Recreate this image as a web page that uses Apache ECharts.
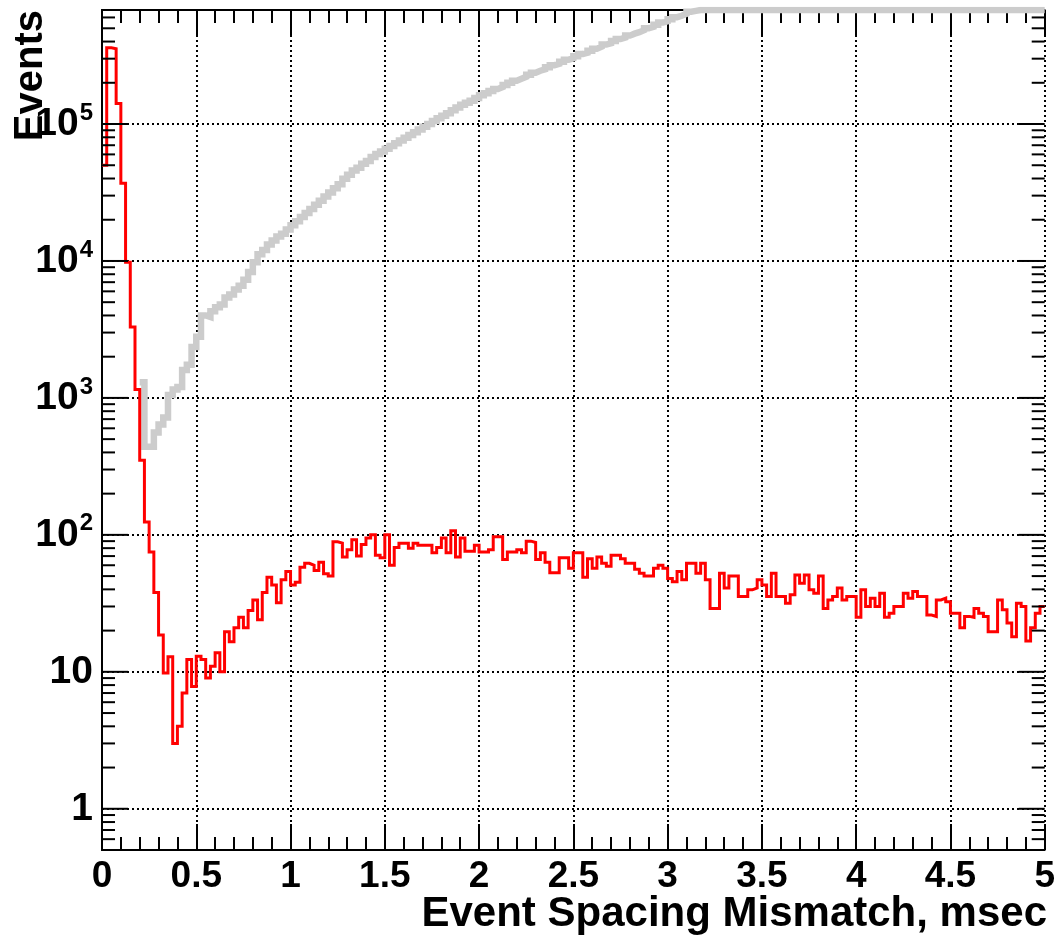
<!DOCTYPE html>
<html>
<head>
<meta charset="utf-8">
<script src="https://cdn.jsdelivr.net/npm/echarts@6/dist/echarts.min.js"></script>
<style>
html,body{margin:0;padding:0;background:#fff;}
#chart{width:1058px;height:939px;}
</style>
</head>
<body>
<div id="chart"></div>
<script>
// ---- data ----
const BIN_WIDTH = 0.025;   // msec
const X_MIN = 0, X_MAX = 5;
const Y_MIN = 0.5, Y_MAX = 680000;
const X_TITLE = 'Event Spacing Mismatch, msec';
const Y_TITLE = 'Events';

// red histogram, bins 0..199 (x = i * 0.025)
const RED_COUNTS = [
  50000, 360000, 355000, 141000, 37000, 9800, 3300, 1150, 350, 124,
  75, 38, 18.6, 9.8, 12.9, 3.0, 4.0, 7.0, 12.3, 7.8,
  13, 12.3, 9, 11, 13.8, 10, 19.6, 16.6, 21, 25,
  21, 28, 33.5, 24, 38, 49, 43, 32, 47, 54,
  43, 45, 58, 62, 60, 55, 63, 52, 50, 89,
  87, 69, 78, 92, 70, 85, 95, 100, 71, 68,
  100, 60, 81, 87, 87, 80, 87, 84, 84, 84,
  74, 81, 95, 74, 107, 69, 95, 76, 76, 84,
  75, 75, 78, 97, 97, 66, 75, 75, 78, 74,
  90, 88, 66, 74, 63, 53, 53, 68, 68, 57,
  74, 74, 49, 67, 57, 69, 62, 59, 71, 71,
  67, 62, 62, 56, 52.5, 50, 50, 57, 60, 57,
  48, 45.5, 54, 47, 62, 62, 52.5, 62, 47, 29,
  29, 52.5, 41, 50, 50, 35.5, 35.5, 39.7, 41, 47,
  43, 35.5, 52.5, 35.5, 35.5, 31.7, 36.5, 51, 44.4, 51,
  39.7, 37.5, 50, 29, 33.5, 35.5, 41, 33.5, 35.5, 35.5,
  25, 39.7, 30, 34.5, 30, 37.5, 25, 26.8, 30, 30,
  37.5, 34.5, 38.6, 35.5, 35.5, 26, 25.4, 33.5, 34.5, 32.5,
  26.8, 26.8, 21, 25.4, 25, 29, 26.8, 25.4, 19.6, 19.6,
  33.5, 28.4, 22.7, 18, 31.7, 30, 16.8, 21, 26.8, 30
];

// grey histogram, starts at bin 8 (x = 0.2); clipped at the frame top beyond x ~ 3.15
const GRAY_FIRST_BIN = 8;
const GRAY_COUNTS = [
  1300, 440, 440, 560, 640, 720, 1050, 1150, 1200, 1600,
  1750, 2350, 2800, 4000, 3900, 4300, 4600, 4800, 5400, 5700,
  6200, 6600, 7300, 8300, 9800, 11200, 12000, 13200, 14100, 15100,
  15800, 17000, 18200, 19500, 20900, 22400, 24000, 25700, 27500, 29500,
  31600, 33900, 36300, 39800, 42700, 45700, 47900, 51300, 53700, 57500,
  60300, 63100, 66100, 69200, 72400, 75900, 79400, 83200, 87100, 91200,
  95500, 100000, 105000, 110000, 115000, 120000, 126000, 132000, 138000, 143000,
  148000, 155000, 162000, 168000, 174000, 180000, 186000, 193000, 200000, 207000,
  214000, 221000, 229000, 237000, 245000, 251000, 260000, 269000, 275000, 285000,
  295000, 302000, 313000, 324000, 331000, 343000, 355000, 367000, 380000, 389000,
  403000, 417000, 427000, 442000, 457000, 468000, 484000, 501000, 513000, 531000,
  550000, 562000, 582000, 603000, 617000, 638000, 661000, 670000,
  680000, 680000, 680000, 680000, 680000, 680000, 680000, 680000, 680000, 680000,
  680000, 680000, 680000, 680000, 680000, 680000, 680000, 680000, 680000, 680000,
  680000, 680000, 680000, 680000, 680000, 680000, 680000, 680000, 680000, 680000,
  680000, 680000, 680000, 680000, 680000, 680000, 680000, 680000, 680000, 680000,
  680000, 680000, 680000, 680000, 680000, 680000, 680000, 680000, 680000, 680000,
  680000, 680000, 680000, 680000, 680000, 680000, 680000, 680000, 680000, 680000,
  680000, 680000, 680000, 680000, 680000, 680000, 680000, 680000, 680000, 680000,
  680000, 680000, 680000, 680000
];

// y axis ticks (log): major decades and minor 2..9 subdivisions
const Y_MAJOR_TICKS = [1, 10, 100, 1000, 10000, 100000];
const Y_MINOR_TICKS = [
  0.6, 0.7, 0.8, 0.9,
  2, 3, 4, 5, 6, 7, 8, 9,
  20, 30, 40, 50, 60, 70, 80, 90,
  200, 300, 400, 500, 600, 700, 800, 900,
  2000, 3000, 4000, 5000, 6000, 7000, 8000, 9000,
  20000, 30000, 40000, 50000, 60000, 70000, 80000, 90000,
  200000, 300000, 400000, 500000, 600000
];

// ---- build ----
function histPoints(counts, firstBin) {
  const pts = counts.map((v, i) => [(firstBin + i) * BIN_WIDTH, v]);
  pts.push([(firstBin + counts.length) * BIN_WIDTH, counts[counts.length - 1]]);
  return pts;
}

const FONT = 'Liberation Sans, Arial, Helvetica, sans-serif';
const dotted = {color: '#000', width: 2, type: [2, 3]};
const tickStyle = {color: '#000', width: 2};

function yLabel(v) {
  const e = Math.round(Math.log10(v));
  const p = Math.pow(10, e);
  if (Math.abs(v - p) / p > 1e-6) return '';
  if (e === 0) return '{b|1}';
  if (e === 1) return '{b|10}';
  return '{b|10}{s|' + e + '}';
}

function tickSeries(name, ticks, len) {
  return {
    name: name, type: 'custom', xAxisIndex: 0, yAxisIndex: 0, silent: true, clip: false, z: 4,
    data: ticks.map(v => [X_MIN, v]),
    renderItem: function (params, api) {
      const v = api.value(1);
      const pl = api.coord([X_MIN, v]);
      const pr = api.coord([X_MAX, v]);
      return {
        type: 'group',
        children: [
          {type: 'line', shape: {x1: pl[0], y1: pl[1], x2: pl[0] + len, y2: pl[1]}, style: {stroke: '#000', lineWidth: 2}},
          {type: 'line', shape: {x1: pr[0] - len, y1: pr[1], x2: pr[0], y2: pr[1]}, style: {stroke: '#000', lineWidth: 2}}
        ]
      };
    }
  };
}

const chart = echarts.init(document.getElementById('chart'), null, {renderer: 'canvas'});
chart.setOption({
  animation: false,
  backgroundColor: '#fff',
  grid: {left: 102, right: 11, top: 10, bottom: 89, containLabel: false},
  xAxis: [{
    type: 'value', position: 'bottom', min: X_MIN, max: X_MAX, interval: 0.5,
    axisLine: {show: true, onZero: false, lineStyle: {color: '#000', width: 2}},
    axisTick: {show: true, inside: true, length: 26, lineStyle: tickStyle},
    minorTick: {show: true, splitNumber: 5, length: 13, lineStyle: tickStyle},
    splitLine: {show: true, lineStyle: dotted},
    axisLabel: {
      show: true, margin: 8, color: '#000', fontFamily: FONT, fontWeight: 'bold', fontSize: 37,
      showMinLabel: true, showMaxLabel: true,
      formatter: v => String(v)
    }
  }, {
    type: 'value', position: 'top', min: X_MIN, max: X_MAX, interval: 0.5,
    axisLine: {show: true, onZero: false, lineStyle: {color: '#000', width: 2}},
    axisTick: {show: true, inside: true, length: 26, lineStyle: tickStyle},
    minorTick: {show: true, splitNumber: 5, length: 13, lineStyle: tickStyle},
    splitLine: {show: false},
    axisLabel: {show: false}
  }],
  yAxis: [{
    type: 'log', logBase: 10, position: 'left', min: Y_MIN, max: Y_MAX,
    axisLine: {show: true, lineStyle: {color: '#000', width: 2}},
    axisTick: {show: false},
    splitLine: {show: true, lineStyle: dotted},
    axisLabel: {
      show: true, margin: 9, color: '#000', showMinLabel: false, showMaxLabel: false,
      formatter: yLabel,
      rich: {
        b: {fontFamily: FONT, fontWeight: 'bold', fontSize: 39, color: '#000'},
        s: {fontFamily: FONT, fontWeight: 'bold', fontSize: 24, color: '#000', padding: [0, 0, 22, 1]}
      }
    }
  }, {
    type: 'log', logBase: 10, position: 'right', min: Y_MIN, max: Y_MAX,
    axisLine: {show: true, lineStyle: {color: '#000', width: 2}},
    axisTick: {show: false},
    splitLine: {show: false},
    axisLabel: {show: false}
  }],
  series: [{
    name: 'all', type: 'line', step: 'end', xAxisIndex: 0, yAxisIndex: 0,
    data: histPoints(GRAY_COUNTS, GRAY_FIRST_BIN),
    symbol: 'none', clip: true, z: 2,
    lineStyle: {color: '#cccccc', width: 6.5, join: 'miter'}
  }, {
    name: 'selected', type: 'line', step: 'end', xAxisIndex: 0, yAxisIndex: 0,
    data: histPoints(RED_COUNTS, 0),
    symbol: 'none', clip: true, z: 3,
    lineStyle: {color: '#ff0000', width: 3, join: 'miter'}
  },
  tickSeries('majorTicks', Y_MAJOR_TICKS, 26),
  tickSeries('minorTicks', Y_MINOR_TICKS, 13)
  ],
  graphic: [{
    type: 'text', x: 1047, y: 914, z: 10,
    style: {text: X_TITLE, fill: '#000', font: 'bold 42px ' + FONT, align: 'right', verticalAlign: 'middle'}
  }, {
    type: 'text', x: 31, y: 10, rotation: Math.PI / 2, z: 10,
    style: {text: Y_TITLE, fill: '#000', font: 'bold 40px ' + FONT, align: 'right', verticalAlign: 'middle'}
  }]
});
</script>
</body>
</html>
